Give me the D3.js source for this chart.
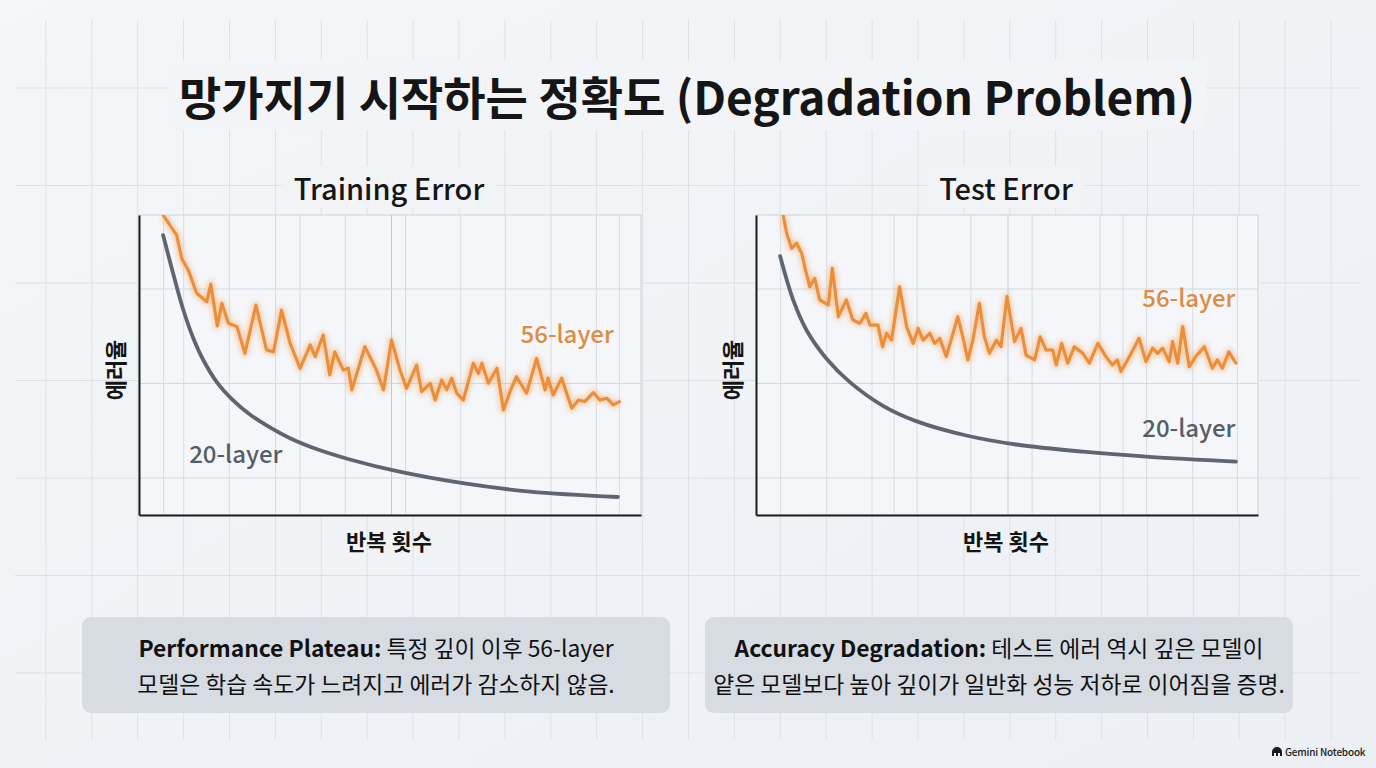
<!DOCTYPE html>
<html>
<head>
<meta charset="utf-8">
<script src="https://cdn.jsdelivr.net/npm/d3@7"></script>
<style>
  body { margin: 0; background: #f1f3f7; }
  svg { display: block; }
  text { font-family: "Noto Sans CJK KR", "Noto Sans", sans-serif; }
</style>
</head>
<body>
<svg id="chart" width="1376" height="768"></svg>
<script>
// ---- data (iteration %, error %) ----
var train56 = [[4.8,100],[6.8,95],[7.5,93.3],[8.5,85.6],[9.8,81.7],[11.5,73.9],[13.5,71.1],[14.3,77],
  [15.6,63],[16.5,70.6],[17.8,63.9],[19.5,62.8],[21.1,53.9],[23.3,70],[25.4,55],[26.8,54.4],[28.4,68.3],
  [30.1,57.2],[32.1,48.9],[34.1,56.7],[35.1,52.8],[36.7,60],[38,46.7],[39,54.4],[40.7,48.3],[41.7,48.9],
  [42.4,41.7],[45,56.1],[47.3,48.3],[48.7,41.7],[50.3,58.3],[52,48.3],[53.3,42.2],[55.3,50],[56.3,41.1],
  [58,43.9],[59,38.3],[60.3,45],[61.3,41.7],[62.3,45.6],[63.3,40.6],[64.6,38.3],[66.6,50.6],[67.6,47.2],
  [68.3,50.6],[69.6,43.9],[71.3,48.9],[72.6,35],[73.9,41.1],[75.2,46.1],[77.2,40.6],[79.2,52.2],[80.9,41.7],
  [81.5,45.6],[82.5,40],[84.2,45.6],[86.2,35.6],[87.5,38.3],[88.8,37.8],[90.5,40.8],[91.8,38.3],[93.2,38.9],
  [94.5,36.7],[95.7,37.8]];
var train20 = [[4.8,93.3],[6.2,84.3],[7.6,75.5],[8.8,68.5],[10.8,59],[12.7,52],[15.5,44.3],[18.7,38.3],
  [22.1,33.5],[25.5,29.8],[30.1,25.6],[35.5,21.9],[42,18.5],[51.4,14.6],[64.5,10.6],[77.9,7.8],[95.4,6]];
var test56 = [[5.4,100],[6.1,93.9],[7.1,88.9],[8.1,90.6],[9.1,87.2],[9.7,82.8],[10.7,76.1],[11.7,78.9],
  [12.7,71.7],[14.4,70],[15.2,82.2],[16.4,66.1],[18,71.7],[19.3,65],[20.7,63.9],[21.9,67.2],[22.7,63.3],
  [24.3,63.3],[25.2,56.1],[26,60.6],[27,58.3],[28.6,76.1],[30,62.8],[31.3,57.2],[32.3,62.2],[33.3,58.3],
  [34.6,60.6],[35.6,57.2],[36.6,58.9],[37.9,52.8],[40.2,66.1],[41.2,59.4],[42.2,51.7],[43.2,58.3],[44.5,70.6],
  [45.5,59.4],[46.5,53.9],[47.9,58.3],[48.8,56.1],[50,72.8],[51.5,57.8],[52.8,62.2],[53.8,53.3],[55.5,51.7],
  [56.6,59.4],[57.8,55],[59.1,55],[59.8,50],[60.9,57.2],[62.1,50.6],[63.4,56.1],[65.1,53.9],[66.4,50.6],
  [68.1,57.2],[69.7,52.8],[71,50],[72,51.7],[72.7,47.8],[74.4,52.8],[76.3,58.9],[77.7,51.1],[79,55.6],
  [80,53.9],[81,55.6],[82.3,51.1],[83,57.8],[84,50.6],[85,62.8],[86.3,49.4],[87.6,52.8],[89.3,56.1],
  [90.9,48.9],[91.9,51.7],[92.9,48.9],[94.2,54.4],[95.6,50.6]];
var test20 = [[4.8,86.3],[7.4,71.7],[10.1,61.5],[14.1,52],[18.7,44.3],[25.3,36.4],[31.9,31.3],[41.9,26.5],
  [51.8,23.5],[65.1,21.1],[78.3,19.4],[95.6,17.8]];

var yGridTicks = [12.5, 44, 75.5];
var trainGridX = [4.8, 8.8, 17.9, 27.1, 32, 41, 50.2, 53, 64, 72.9, 82, 91, 95.6];
var testGridX = [4.8, 14, 23, 27.4, 32, 42.7, 50.1, 54.9, 68.4, 73, 77.7, 86.9, 95.8];

var mainTitle = "망가지기 시작하는 정확도 (Degradation Problem)";
var panels = [
  { title: "Training Error", left: 139, s56: train56, s20: train20, gridX: trainGridX,
    lab56: [76, 57.5], lab20: [10, 17.5], anchor56: "start", anchor20: "start",
    capBold: "Performance Plateau:", capRest: " 특정 깊이 이후 56-layer",
    cap2: "모델은 학습 속도가 느려지고 에러가 감소하지 않음.", box: [82, 670] },
  { title: "Test Error", left: 756, s56: test56, s20: test20, gridX: testGridX,
    lab56: [95.5, 69.5], lab20: [95.5, 26], anchor56: "end", anchor20: "end",
    capBold: "Accuracy Degradation:", capRest: " 테스트 에러 역시 깊은 모델이",
    cap2: "얕은 모델보다 높아 깊이가 일반화 성능 저하로 이어짐을 증명.", box: [705, 1293] }
];

var svg = d3.select("#chart");
var W = 1376, H = 768;

// background
var defs = svg.append("defs");
var bg = defs.append("linearGradient").attr("id", "bg").attr("x1", 0).attr("y1", 0).attr("x2", 1).attr("y2", 1);
bg.append("stop").attr("offset", "0%").attr("stop-color", "#f4f6f9");
bg.append("stop").attr("offset", "100%").attr("stop-color", "#eceff4");
var glow = defs.append("filter").attr("id", "glow").attr("x", "-10%").attr("y", "-10%").attr("width", "120%").attr("height", "120%");
glow.append("feGaussianBlur").attr("stdDeviation", 2.5);

svg.append("rect").attr("width", W).attr("height", H).attr("fill", "url(#bg)");

var bgGrid = svg.append("g").attr("stroke", "#dde1e7").attr("stroke-width", 1);
bgGrid.selectAll(".v").data(d3.range(1, 30)).enter().append("line")
  .attr("x1", d => d * 45.9).attr("x2", d => d * 45.9).attr("y1", 20).attr("y2", 740);
bgGrid.selectAll(".h").data(d3.range(0, 7)).enter().append("line")
  .attr("y1", d => 88 + d * 97.5).attr("y2", d => 88 + d * 97.5).attr("x1", 15).attr("x2", 1360);

// main title
svg.append("rect").attr("x", 170).attr("y", 60).attr("width", 1036).attr("height", 70).attr("fill", "#f2f4f8");
svg.append("text").attr("x", 687).attr("y", 115).attr("text-anchor", "middle")
  .attr("font-size", 46).attr("font-weight", 700).attr("fill", "#151515").text(mainTitle);

var plotW = 502, plotTop = 215, plotBottom = 515;

panels.forEach(function(p, i) {
  var x = d3.scaleLinear().domain([0, 100]).range([p.left, p.left + plotW]);
  var y = d3.scaleLinear().domain([0, 100]).range([plotBottom, plotTop]);
  var g = svg.append("g");
  var cx = p.left + plotW / 2 - 1;

  // chart title
  var tt = g.append("text").attr("x", cx).attr("y", 200).attr("text-anchor", "middle")
    .attr("font-size", 29).attr("font-weight", 500).attr("fill", "#151515").text(p.title);
  var bb = tt.node().getBBox();
  g.insert("rect", "text").attr("x", bb.x - 12).attr("y", bb.y).attr("width", bb.width + 24)
    .attr("height", bb.height).attr("fill", "#f1f3f7");

  g.append("rect").attr("x", p.left).attr("y", plotTop).attr("width", plotW).attr("height", plotBottom - plotTop)
    .attr("fill", "#f4f6f9").attr("stroke", "#cdd1d7").attr("stroke-width", 1);

  // grid
  g.append("g").attr("transform", "translate(0," + plotBottom + ")")
    .call(d3.axisBottom(x).tickValues(p.gridX).tickSize(-(plotBottom - plotTop)).tickFormat(""))
    .call(a => a.select(".domain").remove())
    .call(a => a.selectAll("line").attr("stroke", (d) => d === 50.2 || d === 50.1 ? "#c3c8cf" : "#d8dce2"));
  g.append("g").attr("transform", "translate(" + p.left + ",0)")
    .call(d3.axisLeft(y).tickValues(yGridTicks).tickSize(-plotW).tickFormat(""))
    .call(a => a.select(".domain").remove())
    .call(a => a.selectAll("line").attr("stroke", "#d3d7dd"));

  var clipId = "clip" + i;
  defs.append("clipPath").attr("id", clipId).append("rect")
    .attr("x", p.left).attr("y", plotTop).attr("width", plotW).attr("height", plotBottom - plotTop);

  var line56 = d3.line().x(d => x(d[0])).y(d => y(d[1])).curve(d3.curveLinear);
  var line20 = d3.line().x(d => x(d[0])).y(d => y(d[1])).curve(d3.curveCatmullRom.alpha(0.5));

  var lines = g.append("g").attr("clip-path", "url(#" + clipId + ")");
  lines.append("path").datum(p.s20).attr("d", line20).attr("fill", "none")
    .attr("stroke", "#5e6570").attr("stroke-width", 3.8).attr("stroke-linecap", "round");
  lines.append("path").datum(p.s56).attr("d", line56).attr("fill", "none")
    .attr("stroke", "#f4b27a").attr("stroke-width", 7).attr("opacity", 0.6)
    .attr("stroke-linejoin", "round").attr("filter", "url(#glow)");
  lines.append("path").datum(p.s56).attr("d", line56).attr("fill", "none")
    .attr("stroke", "#eb8e3a").attr("stroke-width", 3.1)
    .attr("stroke-linejoin", "round").attr("stroke-linecap", "round");

  // axes lines (left and bottom)
  g.append("g").attr("transform", "translate(0," + plotBottom + ")")
    .call(d3.axisBottom(x).tickValues([]).tickSizeOuter(0))
    .call(a => a.select(".domain").attr("stroke", "#1e1e1e").attr("stroke-width", 2));
  g.append("g").attr("transform", "translate(" + p.left + ",0)")
    .call(d3.axisLeft(y).tickValues([]).tickSizeOuter(0))
    .call(a => a.select(".domain").attr("stroke", "#1e1e1e").attr("stroke-width", 2));

  // series labels
  g.append("text").attr("x", x(p.lab56[0])).attr("y", y(p.lab56[1])).attr("text-anchor", p.anchor56)
    .attr("font-size", 24).attr("font-weight", 500).attr("fill", "#dc8c46").text("56-layer");
  g.append("text").attr("x", x(p.lab20[0])).attr("y", y(p.lab20[1])).attr("text-anchor", p.anchor20)
    .attr("font-size", 24).attr("font-weight", 500).attr("fill", "#565d67").text("20-layer");

  // axis titles
  g.append("text").attr("transform", "translate(" + (p.left - 15) + ",370) rotate(-90)")
    .attr("text-anchor", "middle").attr("font-size", 22).attr("font-weight", 700)
    .attr("fill", "#151515").text("에러율");
  g.append("text").attr("x", cx).attr("y", 550).attr("text-anchor", "middle")
    .attr("font-size", 22).attr("font-weight", 700).attr("fill", "#151515").text("반복 횟수");

  // caption box
  var bx = p.box[0], bw = p.box[1] - p.box[0], bmid = bx + bw / 2;
  g.append("rect").attr("x", bx).attr("y", 617).attr("width", bw).attr("height", 96).attr("rx", 9)
    .attr("fill", "#d7dce3");
  var t1 = g.append("text").attr("x", bmid).attr("y", 657).attr("text-anchor", "middle")
    .attr("font-size", 22.8).attr("fill", "#111");
  t1.append("tspan").attr("font-weight", 700).text(p.capBold);
  t1.append("tspan").attr("font-weight", 400).text(p.capRest);
  g.append("text").attr("x", bmid).attr("y", 693).attr("text-anchor", "middle")
    .attr("font-size", 22.8).attr("font-weight", 400).attr("fill", "#111").text(p.cap2);
});

// brand mark
var brand = svg.append("g").attr("transform", "translate(1272,756)");
brand.append("path").attr("d", "M0,0 L0,-4 A5,5 0 0 1 10,-4 L10,0 L8,0 L8,-3 L6,-3 L6,0 L4,0 L4,-3 L2,-3 L2,0 Z")
  .attr("fill", "#1a1a1a");
brand.append("text").attr("x", 13).attr("y", 0).attr("font-size", 10).attr("font-weight", 500)
  .attr("letter-spacing", -0.2).attr("fill", "#1a1a1a").text("Gemini Notebook");
</script>
</body>
</html>
